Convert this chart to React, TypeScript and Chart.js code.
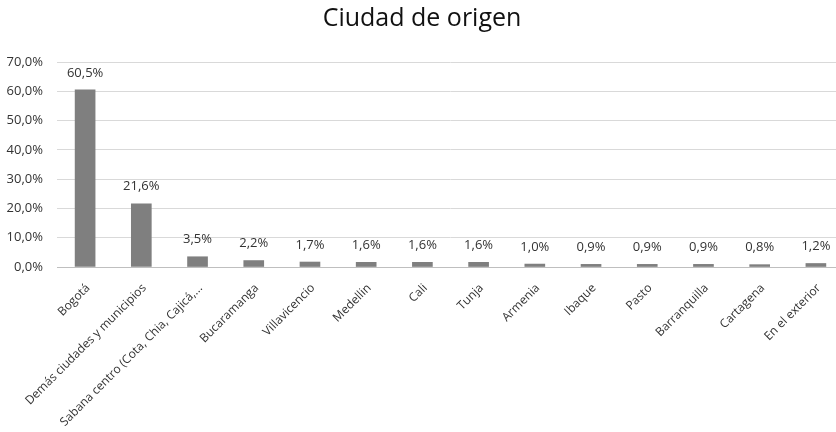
import React, { useEffect, useRef } from "react";
import { Chart, registerables } from "chart.js";

Chart.register(...registerables);

const categories = [
  "Bogotá",
  "Demás ciudades y municipios",
  "Sabana centro (Cota, Chia, Cajicá,...",
  "Bucaramanga",
  "Villavicencio",
  "Medellin",
  "Cali",
  "Tunja",
  "Armenia",
  "Ibaque",
  "Pasto",
  "Barranquilla",
  "Cartagena",
  "En el exterior",
];
const values = [60.5, 21.6, 3.5, 2.2, 1.7, 1.6, 1.6, 1.6, 1.0, 0.9, 0.9, 0.9, 0.8, 1.2];
const title = "Ciudad de origen";
const yMax = 70;
const yStep = 10;

const fmt = (v: number) => v.toFixed(1).replace(".", ",") + "%";

const FONT = "'Open Sans', 'DejaVu Sans', sans-serif";

const labelPlugin = {
  id: "barLabels",
  afterDatasetsDraw(chart: any) {
    const ctx = chart.ctx;
    const meta = chart.getDatasetMeta(0);
    ctx.save();
    ctx.font = `13px ${FONT}`;
    ctx.fillStyle = "#333333";
    ctx.textAlign = "center";
    ctx.textBaseline = "middle";
    meta.data.forEach((bar: any, i: number) => {
      ctx.fillText(fmt(values[i]), bar.x, bar.y - 17);
    });
    ctx.restore();
  },
};

export default function App() {
  const ref = useRef<HTMLCanvasElement>(null);
  useEffect(() => {
    if (!ref.current) return;
    const chart = new Chart(ref.current, {
      type: "bar",
      data: {
        labels: categories,
        datasets: [
          {
            data: values,
            backgroundColor: "#7f7f7f",
            barThickness: 20,
          },
        ],
      },
      options: {
        animation: false,
        responsive: false,
        layout: { padding: { left: 0, right: 0, top: 0, bottom: 0 } },
        plugins: {
          legend: { display: false },
          tooltip: { enabled: false },
          title: {
            display: true,
            text: title,
            color: "#111111",
            font: { family: FONT, size: 25, weight: "normal" },
            padding: { top: 4, bottom: 28 },
          },
        },
        scales: {
          x: {
            grid: { display: false },
            border: { display: true, color: "#bfbfbf" },
            ticks: {
              color: "#333333",
              font: { family: FONT, size: 12 },
              minRotation: 45,
              maxRotation: 45,
              autoSkip: false,
              padding: 6,
              labelOffset: 3,
            },
            afterFit: (scale: any) => {
              scale.height = 432 - 267;
            },
          },
          y: {
            min: 0,
            max: yMax,
            ticks: {
              stepSize: yStep,
              color: "#333333",
              font: { family: FONT, size: 13 },
              padding: 14,
              callback: (v: any) => fmt(Number(v)),
            },
            grid: { color: "#d9d9d9", drawTicks: false },
            border: { display: false },
            afterFit: (scale: any) => {
              scale.width = 57;
            },
          },
        },
      },
      plugins: [labelPlugin],
    });
    return () => chart.destroy();
  }, []);
  return (
    <div style={{ position: "absolute", left: 0, top: 0, width: 836, height: 432, overflow: "hidden", background: "#fff" }}>
      <canvas ref={ref} width={844} height={432} style={{ display: "block" }} />
    </div>
  );
}
